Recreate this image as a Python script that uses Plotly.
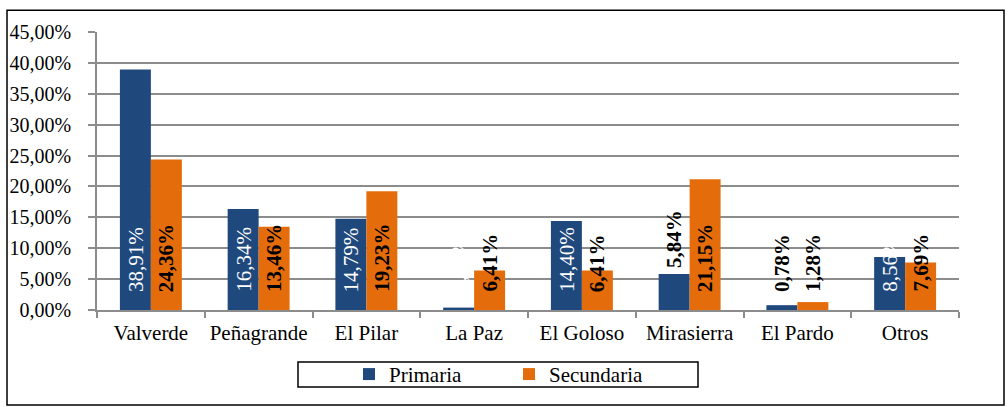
import plotly.graph_objects as go

categories = ["Valverde", "Peñagrande", "El Pilar", "La Paz", "El Goloso", "Mirasierra", "El Pardo", "Otros"]
primaria = [38.91, 16.34, 14.79, 0.39, 14.40, 5.84, 0.78, 8.56]
secundaria = [24.36, 13.46, 19.23, 6.41, 6.41, 21.15, 1.28, 7.69]
primaria_labels = ["38,91%", "16,34%", "14,79%", "0,39%", "14,40%", "5,84%", "0,78%", "8,56%"]
secundaria_labels = ["24,36%", "13,46%", "19,23%", "6,41%", "6,41%", "21,15%", "1,28%", "7,69%"]
y_ticks = [0, 5, 10, 15, 20, 25, 30, 35, 40, 45]
y_ticktext = ["0,00%", "5,00%", "10,00%", "15,00%", "20,00%", "25,00%", "30,00%", "35,00%", "40,00%", "45,00%"]

BLUE = "#1F497D"
ORANGE = "#E46C0A"
FONT = "Liberation Serif"

W, H = 1008, 407
L, R, T, B = 97, 959, 31.7, 310

def px(x):
    return (x - L) / (R - L)

def py(y):
    return (B - y) / (B - T)

bargap = 0.425
fig = go.Figure()
fig.add_trace(go.Bar(name="Primaria", x=categories, y=primaria, marker_color=BLUE,
                     marker_line_width=0))
fig.add_trace(go.Bar(name="Secundaria", x=categories, y=secundaria, marker_color=ORANGE,
                     marker_line_width=0))

off = (1 - bargap) / 4
annotations = []
for i, cat in enumerate(categories):
    outside_above = primaria[i] == 5.84
    dark = cat in ("Mirasierra", "El Pardo")
    annotations.append(dict(
        x=i - off, y=primaria[i] if outside_above else 0, xref="x", yref="y",
        text=("<b>%s</b>" % primaria_labels[i]) if dark else primaria_labels[i],
        textangle=-90, showarrow=False, xanchor="center", yanchor="bottom",
        yshift=4 if outside_above else 16,
        font=dict(family=FONT, size=21, color="black" if dark else "white")))
    annotations.append(dict(
        x=i + off, y=0, xref="x", yref="y",
        text="<b>%s</b>" % secundaria_labels[i],
        textangle=-90, showarrow=False, xanchor="center", yanchor="bottom",
        yshift=16, font=dict(family=FONT, size=21, color="black")))

shapes = [
    dict(type="rect", xref="paper", yref="paper", x0=px(7), x1=px(1004), y0=py(10), y1=py(405),
         line=dict(color="black", width=1.5), fillcolor="rgba(0,0,0,0)", layer="below"),
    dict(type="rect", xref="paper", yref="paper", x0=px(298), x1=px(698), y0=py(362), y1=py(387),
         line=dict(color="black", width=1.5), fillcolor="rgba(0,0,0,0)"),
]

fig.update_layout(
    width=W, height=H,
    margin=dict(l=L, r=W - R, t=T, b=H - B, pad=0, autoexpand=False),
    paper_bgcolor="white", plot_bgcolor="white",
    barmode="group", bargap=bargap, bargroupgap=0,
    font=dict(family=FONT, size=21, color="black"),
    showlegend=True,
    legend=dict(orientation="h", x=px(349), y=py(374.5), xanchor="left", yanchor="middle",
                font=dict(family=FONT, size=21), entrywidth=115, entrywidthmode="pixels",
                bgcolor="rgba(0,0,0,0)", itemclick=False),
    annotations=annotations,
    shapes=shapes,
    xaxis=dict(showline=True, linecolor="#8C8C8C", linewidth=1.5, ticks="outside",
               tickson="boundaries", ticklen=6, tickcolor="#8C8C8C", tickwidth=1.5,
               ticklabelstandoff=3, automargin=False,
               tickfont=dict(family=FONT, size=21), showgrid=False),
    yaxis=dict(range=[0, 45], tickvals=y_ticks, ticktext=y_ticktext, showline=True,
               linecolor="#8C8C8C", linewidth=1.5, ticks="outside", ticklen=7,
               tickcolor="#8C8C8C", tickwidth=1.5, showgrid=True, gridcolor="#8C8C8C",
               ticklabelstandoff=13, automargin=False,
               gridwidth=1.5, tickfont=dict(family=FONT, size=20), zeroline=False),
)

fig.write_html("out.html", config={"displayModeBar": False},
               post_script="document.body.style.margin='0';")
